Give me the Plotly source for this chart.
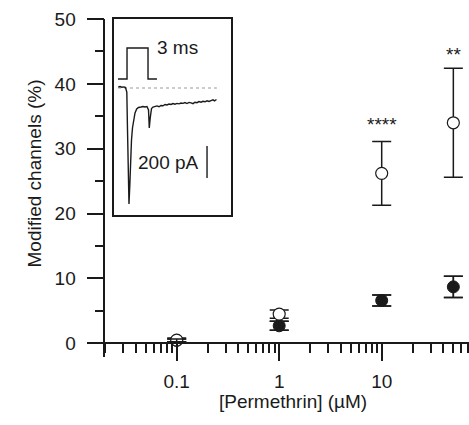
import plotly.graph_objects as go
import math

# ---- main data ----
conc = [0.1, 1, 10, 50]
open_mean = [0.5, 4.5, 26.2, 34.0]
open_err = [0.3, 0.65, 4.9, 8.4]
filled_mean = [0.45, 2.7, 6.6, 8.7]
filled_err = [0.2, 0.7, 0.85, 1.65]
sig_conc = [10, 50]
sig_y = [33.7, 44.6]
sig_text = ["****", "**"]

x_tickvals = [0.1, 1, 10]
x_ticktext = ["0.1", "1", "10"]
x_minor = [0.02, 0.03, 0.04, 0.05, 0.06, 0.07, 0.08, 0.09,
           0.2, 0.3, 0.4, 0.5, 0.6, 0.7, 0.8, 0.9,
           2, 3, 4, 5, 6, 7, 8, 9,
           20, 30, 40, 50, 60, 70]
y_tickvals = [0, 10, 20, 30, 40, 50]
y_minor = [5, 15, 25, 35, 45]

# ---- inset data (ms, pA) ----
trace_t = [0.61, 0.86, 1.14, 1.43, 1.64, 1.83, 1.93, 2.04, 2.14, 2.26, 2.37, 2.50, 2.64, 2.79,
           3.00, 3.24, 3.50, 3.86, 4.14, 4.43, 4.71, 4.93, 5.04, 5.17, 5.36, 5.57, 5.86, 6.14,
           6.43, 6.71, 7.00, 7.29, 7.57, 7.86, 8.14, 8.43, 8.71, 9.00, 9.29, 9.57, 9.86, 10.14,
           10.43, 10.71, 11.00, 11.29, 11.57, 11.86, 12.14, 12.43, 12.71, 13.00, 13.29, 13.57,
           13.86, 14.14, 14.36, 14.64]
trace_i = [6, 9, 5, 7, 3, -25, -262, -575, -725, -606, -450, -325, -250, -200,
           -156, -131, -122, -119, -116, -119, -116, -137, -250, -188, -128, -119, -116, -112,
           -117, -109, -111, -103, -106, -100, -103, -97, -101, -96, -99, -94, -96, -91,
           -97, -90, -93, -98, -89, -92, -85, -89, -83, -86, -80, -84,
           -79, -74, -80, -72]
baseline_t = [0.57, 14.7]
baseline_i = [0, 0]
pulse_t = [0.57, 1.86, 1.86, 4.86, 4.86, 6.14]
pulse_v = [0, 0, 1, 1, 0, 0]
scalebar_t = [13.29, 13.29]
scalebar_i = [-362, -562]

FONT = "Liberation Sans, Arial, sans-serif"
INK = "#1a1a1a"
W, H = 469, 425
L, R, T, B = 87, 0, 19, 68
pw, ph = W - L - R, H - T - B

def px2paper_x(px):
    return (px - L) / pw

def py2paper_y(py):
    return (H - B - py) / ph

fig = go.Figure()

err_common = dict(type="data", visible=True, color=INK, thickness=1.5, width=9.5)

fig.add_trace(go.Scatter(
    x=conc, y=filled_mean, mode="markers",
    marker=dict(size=12, color=INK, line=dict(color=INK, width=1)),
    error_y=dict(array=filled_err, **err_common), showlegend=False))
fig.add_trace(go.Scatter(
    x=conc, y=open_mean, mode="markers",
    marker=dict(size=12, color="white", line=dict(color=INK, width=1.2)),
    error_y=dict(array=open_err, **err_common), showlegend=False))
# filled error bars redrawn on top
fig.add_trace(go.Scatter(
    x=conc, y=filled_mean, mode="markers",
    marker=dict(size=1, color="rgba(0,0,0,0)"),
    error_y=dict(array=filled_err, **err_common), showlegend=False, hoverinfo="skip"))

# inset traces
fig.add_trace(go.Scatter(x=baseline_t, y=baseline_i, mode="lines", xaxis="x2", yaxis="y2",
                         line=dict(color="#999999", width=1, dash="dot"), showlegend=False))
fig.add_trace(go.Scatter(x=trace_t, y=trace_i, mode="lines", xaxis="x2", yaxis="y2",
                         line=dict(color=INK, width=1.4), showlegend=False))
fig.add_trace(go.Scatter(x=scalebar_t, y=scalebar_i, mode="lines", xaxis="x2", yaxis="y2",
                         line=dict(color=INK, width=1.4), showlegend=False))
fig.add_trace(go.Scatter(x=pulse_t, y=pulse_v, mode="lines", xaxis="x2", yaxis="y3",
                         line=dict(color=INK, width=1.4), showlegend=False))

ymin = -((H - B) - 343.3) / ((343.3 - T) / 50.0)
xlo = -1 - (176.7 - L) / 102.5
xhi = 1 + (W - 381.7) / 102.5

fig.update_layout(
    width=W, height=H,
    margin=dict(l=L, r=R, t=T, b=B, pad=0),
    paper_bgcolor="white", plot_bgcolor="white",
    font=dict(family=FONT, size=19, color=INK),
    xaxis=dict(type="log", range=[xlo, xhi], domain=[0, 1],
               anchor="free", position=(0 - ymin) / (50 - ymin),
               showline=True, linecolor=INK, linewidth=1.5,
               ticks="outside", ticklen=17, tickwidth=1.5, tickcolor=INK,
               tickmode="array", tickvals=x_tickvals, ticktext=x_ticktext,
               minor=dict(tickmode="array", tickvals=x_minor, ticks="outside",
                          ticklen=8.5, tickwidth=1.5, tickcolor=INK, showgrid=False),
               showgrid=False, zeroline=False, ticklabelstandoff=4,
               tickfont=dict(size=19)),
    yaxis=dict(range=[ymin, 50], domain=[0, 1],
               anchor="free", position=px2paper_x(104.3),
               showline=True, linecolor=INK, linewidth=1.5,
               ticks="outside", ticklen=17, tickwidth=1.5, tickcolor=INK,
               tickmode="array", tickvals=y_tickvals,
               minor=dict(tickmode="array", tickvals=y_minor, ticks="outside",
                          ticklen=8.5, tickwidth=1.5, tickcolor=INK, showgrid=False),
               showgrid=False, zeroline=False, ticklabelstandoff=7,
               tickfont=dict(size=19)),
    xaxis2=dict(domain=[px2paper_x(114), px2paper_x(231)], range=[0, 117 / 7.0],
                anchor="y2", showline=True, mirror=True, linecolor=INK, linewidth=1.5,
                showticklabels=False, ticks="", showgrid=False, zeroline=False),
    yaxis2=dict(domain=[py2paper_y(215), py2paper_y(19)], range=[-793.75, 431.25],
                anchor="x2", showline=True, mirror=True, linecolor=INK, linewidth=1.5,
                showticklabels=False, ticks="", showgrid=False, zeroline=False),
    yaxis3=dict(domain=[py2paper_y(215), py2paper_y(19)], overlaying="y2",
                range=[(79 - 215) / 31.0, (79 - 19) / 31.0], anchor="x2",
                visible=False, showgrid=False, zeroline=False),
)

ann = []
for c, yv, t in zip(sig_conc, sig_y, sig_text):
    ann.append(dict(x=math.log10(c), y=yv, xref="x", yref="y", text=t, showarrow=False,
                    xanchor="center", yanchor="middle", font=dict(size=19, color=INK)))
ann.append(dict(x=px2paper_x(34), y=py2paper_y(173.5), xref="paper", yref="paper",
                text="Modified channels (%)", textangle=-90, showarrow=False,
                xanchor="center", yanchor="middle", font=dict(size=19, color=INK)))
ann.append(dict(x=px2paper_x(293), y=py2paper_y(401.5), xref="paper", yref="paper",
                text="[Permethrin] (µM)", showarrow=False,
                xanchor="center", yanchor="middle", font=dict(size=19, color=INK)))
ann.append(dict(x=px2paper_x(155), y=py2paper_y(47.5), xref="paper", yref="paper",
                text="3 ms", showarrow=False, xanchor="left", yanchor="middle",
                font=dict(size=19, color=INK)))
ann.append(dict(x=px2paper_x(201), y=py2paper_y(163), xref="paper", yref="paper",
                text="200 pA", showarrow=False, xanchor="right", yanchor="middle",
                font=dict(size=19, color=INK)))
fig.update_layout(annotations=ann)

fig.write_html("out.html", config={"displayModeBar": False},
               post_script="document.body.style.margin='0';document.body.style.padding='0';")
